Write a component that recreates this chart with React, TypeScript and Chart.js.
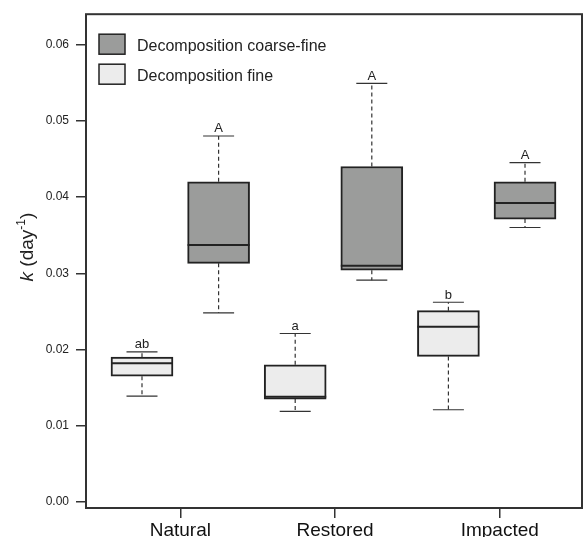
import React, { useEffect, useRef } from 'react';
import { Chart, registerables } from 'chart.js';

Chart.register(...registerables);

const categories = ['Natural', 'Restored', 'Impacted'];
const seriesNames = ['Decomposition coarse-fine', 'Decomposition fine'];

// Decomposition coarse-fine (k, day^-1)
const coarseMin = [0.0248, 0.0291, 0.0360];
const coarseQ1 = [0.0313, 0.0304, 0.0371];
const coarseMed = [0.0337, 0.0310, 0.0392];
const coarseQ3 = [0.0420, 0.0440, 0.0420];
const coarseMax = [0.0480, 0.0549, 0.0445];
const coarseLetters = ['A', 'A', 'A'];

// Decomposition fine (k, day^-1)
const fineMin = [0.0139, 0.0119, 0.0121];
const fineQ1 = [0.0165, 0.0135, 0.0191];
const fineMed = [0.0182, 0.0138, 0.0230];
const fineQ3 = [0.0190, 0.0180, 0.0251];
const fineMax = [0.0197, 0.0221, 0.0262];
const fineLetters = ['ab', 'a', 'b'];

const yTickValues = [0, 0.01, 0.02, 0.03, 0.04, 0.05, 0.06];
const xTickPositions = [0.5, 2.52, 4.67];

const FONT = "'Liberation Sans', Arial, Helvetica, sans-serif";
const COARSE_FILL = '#9b9c9b';
const FINE_FILL = '#ececec';
const INK = '#222222';

export default function App() {
  const ref = useRef<HTMLCanvasElement>(null);

  useEffect(() => {
    const canvas = ref.current;
    if (!canvas) return;

    const coarseBoxes = categories.map((_, i) => ({ x: i * 2 + 1, y: [coarseQ1[i], coarseQ3[i]] }));
    const fineBoxes = categories.map((_, i) => ({ x: i * 2, y: [fineQ1[i], fineQ3[i]] }));

    const groups = [
      { ds: 0, q1: coarseQ1, q3: coarseQ3, min: coarseMin, med: coarseMed, max: coarseMax, letters: coarseLetters },
      { ds: 1, q1: fineQ1, q3: fineQ3, min: fineMin, med: fineMed, max: fineMax, letters: fineLetters },
    ];

    const boxPlugin = {
      id: 'boxExtras',
      beforeDatasetsDraw(chart: any) {
        const { ctx, scales } = chart;
        const y = scales.y;
        ctx.save();
        groups.forEach((g) => {
          const meta = chart.getDatasetMeta(g.ds);
          meta.data.forEach((bar: any, i: number) => {
            const cx = bar.x;
            const capHalf = bar.width / 4;
            const yMin = y.getPixelForValue(g.min[i]);
            const yMax = y.getPixelForValue(g.max[i]);
            const yLo = y.getPixelForValue(g.q1[i]);
            const yHi = y.getPixelForValue(g.q3[i]);
            ctx.strokeStyle = '#333';
            ctx.lineWidth = 1.2;
            ctx.setLineDash([4, 3]);
            ctx.beginPath();
            ctx.moveTo(cx, yHi);
            ctx.lineTo(cx, yMax);
            ctx.moveTo(cx, yLo);
            ctx.lineTo(cx, yMin);
            ctx.stroke();
            ctx.setLineDash([]);
            ctx.beginPath();
            ctx.moveTo(cx - capHalf, yMax);
            ctx.lineTo(cx + capHalf, yMax);
            ctx.moveTo(cx - capHalf, yMin);
            ctx.lineTo(cx + capHalf, yMin);
            ctx.stroke();
          });
        });
        ctx.restore();
      },
      afterDatasetsDraw(chart: any) {
        const { ctx, scales } = chart;
        const y = scales.y;
        ctx.save();
        groups.forEach((g) => {
          const meta = chart.getDatasetMeta(g.ds);
          meta.data.forEach((bar: any, i: number) => {
            const cx = bar.x;
            const half = bar.width / 2;
            const ym = y.getPixelForValue(g.med[i]);
            ctx.strokeStyle = INK;
            ctx.lineWidth = 2;
            ctx.beginPath();
            ctx.moveTo(cx - half, ym);
            ctx.lineTo(cx + half, ym);
            ctx.stroke();
            ctx.fillStyle = INK;
            ctx.font = `13px ${FONT}`;
            ctx.textAlign = 'center';
            ctx.textBaseline = 'alphabetic';
            ctx.fillText(g.letters[i], cx, y.getPixelForValue(g.max[i]) - 3.5);
          });
        });
        ctx.restore();
      },
      afterDraw(chart: any) {
        const { ctx, chartArea } = chart;
        ctx.save();
        // frame
        ctx.strokeStyle = '#333';
        ctx.lineWidth = 2;
        ctx.strokeRect(chartArea.left, chartArea.top, chartArea.right - chartArea.left, chartArea.bottom - chartArea.top);

        // legend
        const lx = chartArea.left + 13;
        const fills = [COARSE_FILL, FINE_FILL];
        seriesNames.forEach((name, i) => {
          const top = chartArea.top + 20 + i * 30;
          ctx.fillStyle = fills[i];
          ctx.fillRect(lx, top, 26, 20);
          ctx.strokeStyle = INK;
          ctx.lineWidth = 1.5;
          ctx.strokeRect(lx, top, 26, 20);
          ctx.fillStyle = INK;
          ctx.font = `16px ${FONT}`;
          ctx.textAlign = 'left';
          ctx.textBaseline = 'alphabetic';
          ctx.fillText(name, lx + 38, top + 16.5);
        });

        // y-axis title: k (day^-1)
        const cy = (chartArea.top + chartArea.bottom) / 2 - 14;
        ctx.translate(33, cy);
        ctx.rotate(-Math.PI / 2);
        const parts = [
          { t: 'k', f: `italic 19px ${FONT}`, dy: 0 },
          { t: ' (day', f: `19px ${FONT}`, dy: 0 },
          { t: '-1', f: `12px ${FONT}`, dy: -8 },
          { t: ')', f: `19px ${FONT}`, dy: 0 },
        ];
        let total = 0;
        parts.forEach((p) => {
          ctx.font = p.f;
          total += ctx.measureText(p.t).width;
        });
        let px = -total / 2;
        ctx.fillStyle = INK;
        ctx.textAlign = 'left';
        ctx.textBaseline = 'alphabetic';
        parts.forEach((p) => {
          ctx.font = p.f;
          ctx.fillText(p.t, px, p.dy);
          px += ctx.measureText(p.t).width;
        });
        ctx.restore();
      },
    };

    const chart = new Chart(canvas, {
      type: 'bar',
      data: {
        datasets: [
          {
            label: seriesNames[0],
            data: coarseBoxes as any,
            backgroundColor: COARSE_FILL,
            borderColor: INK,
            borderWidth: 2,
            borderSkipped: false,
            barThickness: 62,
            grouped: false,
          } as any,
          {
            label: seriesNames[1],
            data: fineBoxes as any,
            backgroundColor: FINE_FILL,
            borderColor: INK,
            borderWidth: 2,
            borderSkipped: false,
            barThickness: 62,
            grouped: false,
          } as any,
        ],
      },
      options: {
        responsive: false,
        animation: false,
        devicePixelRatio: 1,
        layout: { padding: { top: 11, right: 1, left: 0, bottom: 0 } },
        plugins: {
          legend: { display: false },
          tooltip: { enabled: false },
        },
        scales: {
          x: {
            type: 'linear',
            min: -0.731,
            max: 5.744,
            offset: false,
            afterBuildTicks: (s: any) => {
              s.ticks = xTickPositions.map((v) => ({ value: v }));
            },
            afterFit: (s: any) => {
              s.height = 29;
            },
            ticks: {
              callback: (_v: any, i: number) => categories[i],
              font: { family: FONT, size: 19 },
              color: '#111',
              padding: 1,
              autoSkip: false,
              maxRotation: 0,
            },
            grid: { offset: false, drawOnChartArea: false, drawTicks: true, tickLength: 10, color: '#333', lineWidth: 1.5 },
            border: { display: false },
          },
          y: {
            type: 'linear',
            min: -0.00078,
            max: 0.06397,
            afterBuildTicks: (s: any) => {
              s.ticks = yTickValues.map((v) => ({ value: v }));
            },
            afterFit: (s: any) => {
              s.width = 86;
            },
            ticks: {
              callback: (v: any) => Number(v).toFixed(2),
              font: { family: FONT, size: 12 },
              color: INK,
              padding: 7,
            },
            grid: { drawOnChartArea: false, drawTicks: true, tickLength: 10, color: '#333', lineWidth: 1.5 },
            border: { display: false },
          },
        },
      } as any,
      plugins: [boxPlugin],
    });

    return () => chart.destroy();
  }, []);

  return (
    <div style={{ position: 'fixed', left: 0, top: 0, width: 583, height: 537 }}>
      <canvas ref={ref} width={583} height={537} style={{ display: 'block' }} />
    </div>
  );
}
